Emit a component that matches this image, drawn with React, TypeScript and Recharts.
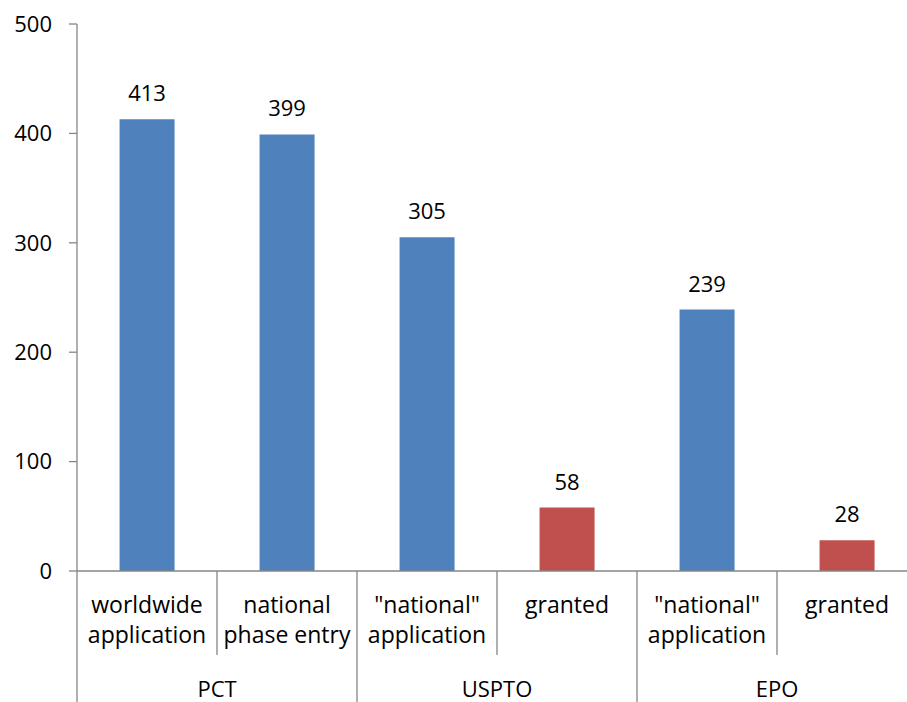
import React from 'react';
import { BarChart, Bar, XAxis, YAxis, Cell, LabelList } from 'recharts';

// Patent filings per office, two-level category axis (office / stage)
const categories = [
  'worldwide\napplication',
  'national\nphase entry',
  '"national"\napplication',
  'granted',
  '"national"\napplication',
  'granted',
];
const offices = ['PCT', 'PCT', 'USPTO', 'USPTO', 'EPO', 'EPO'];
const counts = [413, 399, 305, 58, 239, 28];
const yTicks = [0, 100, 200, 300, 400, 500];

const data = categories.map((category, i) => ({
  category,
  office: offices[i],
  count: counts[i],
}));

const FONT = '"Open Sans", sans-serif';
const AXIS_GREY = '#868686';
const BLUE = '#4F81BD';
const RED = '#C0504D';

const INNER_AXIS_H = 84;
const OUTER_AXIS_H = 47;

// stage labels, with a divider on the left edge of each band
function StageTick({ x, y, payload }: any) {
  const half = payload.offset ?? 70;
  const lines = String(payload.value).split('\n');
  return (
    <g>
      <line x1={x - half} y1={y} x2={x - half} y2={y + INNER_AXIS_H} stroke={AXIS_GREY} strokeWidth={1.3} />
      <text x={x} y={y + 42} textAnchor="middle" fill="#000" fontSize={23} fontFamily={FONT}>
        {lines.map((line, i) => (
          <tspan key={i} x={x} dy={i === 0 ? 0 : 30}>
            {line}
          </tspan>
        ))}
      </text>
    </g>
  );
}

// office labels underneath, divider continues down
function OfficeTick({ x, y, payload }: any) {
  const half = payload.offset ?? 140;
  return (
    <g>
      <line x1={x - half} y1={y} x2={x - half} y2={y + OUTER_AXIS_H} stroke={AXIS_GREY} strokeWidth={1.3} />
      <text x={x} y={y + 42} textAnchor="middle" fill="#000" fontSize={22} fontFamily={FONT}>
        {payload.value}
      </text>
    </g>
  );
}

export default function App() {
  return (
    <div
      style={{
        position: 'fixed',
        left: 0,
        top: 0,
        width: 907,
        height: 702,
        overflow: 'hidden',
        background: '#fff',
      }}
    >
      <BarChart
        width={920}
        height={702}
        data={data}
        margin={{ top: 24, right: 3, bottom: 0, left: 0 }}
        barCategoryGap="30.4%"
      >
        <XAxis
          dataKey="category"
          height={INNER_AXIS_H}
          tickSize={0}
          tickMargin={0}
          tickLine={false}
          axisLine={{ stroke: AXIS_GREY, strokeWidth: 1.3 }}
          tick={<StageTick />}
          interval={0}
        />
        <XAxis
          xAxisId="office"
          dataKey="office"
          allowDuplicatedCategory={false}
          height={OUTER_AXIS_H}
          tickSize={0}
          tickMargin={0}
          tickLine={false}
          axisLine={false}
          tick={<OfficeTick />}
          interval={0}
        />
        <YAxis
          domain={[0, 500]}
          ticks={yTicks}
          width={77}
          tickSize={8}
          tickMargin={17}
          axisLine={{ stroke: AXIS_GREY, strokeWidth: 1.3 }}
          tickLine={{ stroke: AXIS_GREY, strokeWidth: 1.3 }}
          tick={{ fill: '#000', fontSize: 22, fontFamily: FONT }}
        />
        <Bar dataKey="count" isAnimationActive={false}>
          {data.map((d, i) => (
            <Cell key={i} fill={d.category === 'granted' ? RED : BLUE} />
          ))}
          <LabelList dataKey="count" position="top" offset={18} fill="#000" fontSize={22} fontFamily={FONT} />
        </Bar>
      </BarChart>
    </div>
  );
}
